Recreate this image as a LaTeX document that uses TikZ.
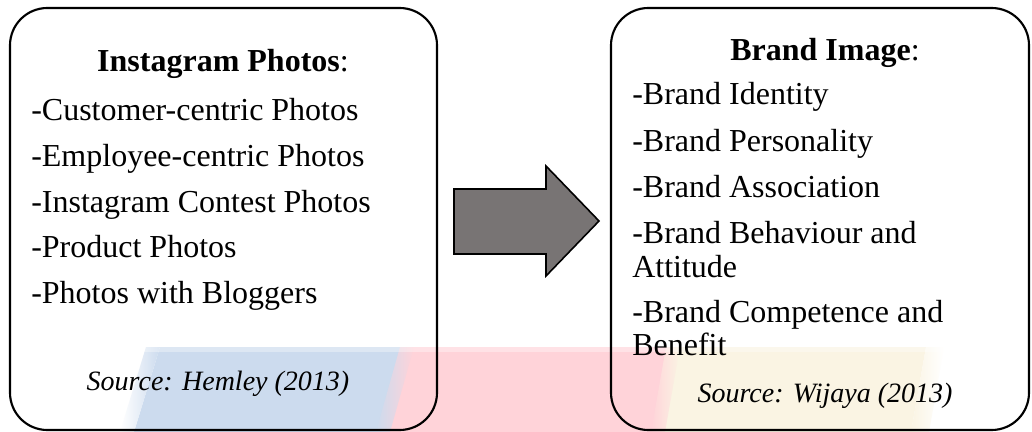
\documentclass[tikz,border=0pt]{standalone}
\usepackage{fontspec}
\setmainfont{Liberation Serif}
\begin{document}
\begin{tikzpicture}[x=0.75pt,y=-0.75pt,
  panel/.style={draw=black, line width=1.6pt, rounded corners=28pt, inner sep=0pt},
  item/.style={anchor=base west, inner sep=0pt, font=\fontsize{24}{28}\selectfont},
  heading/.style={anchor=base, inner sep=0pt, font=\fontsize{24}{28}\selectfont},
  srcnote/.style={anchor=base, inner sep=0pt, font=\fontsize{21}{25}\selectfont\itshape},
  blockarrow/.style={draw=black, line width=1.2pt, fill=arrowgray, line join=miter}]
\definecolor{bandblue}{RGB}{204,219,238}
\definecolor{bandpink}{RGB}{255,211,217}
\definecolor{bandcream}{RGB}{250,244,227}
\definecolor{arrowgray}{RGB}{120,116,116}
\useasboundingbox (0,0) rectangle (1032,432);
\fill[white] (0,0) rectangle (1032,432);

% coloured bands along the bottom, with soft outer edges
\fill[bandblue] (160,347) -- (407,347) -- (383,432) -- (134,432) -- cycle;
\shade[left color=white, right color=bandblue] (146,347) -- (160,347) -- (134,432) -- (120,432) -- cycle;
\fill[bandpink] (407,347) -- (673,347) -- (658,432) -- (383,432) -- cycle;
\shade[left color=bandblue, right color=bandpink] (400,347) -- (414,347) -- (390,432) -- (376,432) -- cycle;
\fill[bandcream] (673,347) -- (926,347) -- (911,432) -- (658,432) -- cycle;
\shade[left color=bandpink, right color=bandcream] (666,347) -- (680,347) -- (665,432) -- (651,432) -- cycle;
\shade[left color=bandcream, right color=white] (926,347) -- (944,347) -- (929,432) -- (911,432) -- cycle;
\fill[white, opacity=0.35] (120,347) rectangle (944,352);

% the two panels
\node[panel, minimum width=320.25pt, minimum height=316.5pt] (photos) at (223.5,219) {};
\node[panel, minimum width=313.5pt, minimum height=316.5pt] (brand) at (820,219) {};

% left panel text
\node[heading] (photostitle) at (223,71.5) {\textbf{Instagram Photos}:};
\node[item] (p1) at (31,120) {-Customer-centric Photos};
\node[item] (p2) at (31,166) {-Employee-centric Photos};
\node[item] (p3) at (31,212) {-Instagram Contest Photos};
\node[item] (p4) at (31,257) {-Product Photos};
\node[item] (p5) at (31,303) {-Photos with Bloggers};
\node[srcnote] (photossrc) at (218,390) {Source: Hemley (2013)};

% right panel text
\node[heading] (brandtitle) at (825,60) {\textbf{Brand Image}:};
\node[item] (b1) at (632,104) {-Brand Identity};
\node[item] (b2) at (632,151) {-Brand Personality};
\node[item] (b3) at (632,197) {-Brand Association};
\node[item] (b4) at (632,243) {-Brand Behaviour and};
\node[item] (b4b) at (632,277) {Attitude};
\node[item] (b5) at (632,322) {-Brand Competence and};
\node[item] (b5b) at (632,355) {Benefit};
\node[srcnote] (brandsrc) at (825,402) {Source: Wijaya (2013)};

% block arrow between the panels
\draw[blockarrow] (454,189) -- (546,189) -- (546,166) -- (599,221)
  -- (546,276) -- (546,254) -- (454,254) -- cycle;
\end{tikzpicture}
\end{document}
